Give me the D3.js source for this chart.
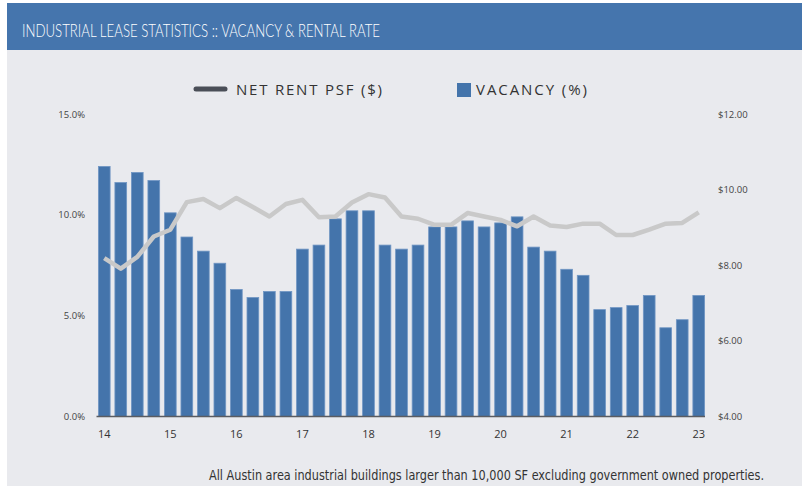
<!DOCTYPE html>
<html>
<head>
<meta charset="utf-8">
<script src="https://cdn.jsdelivr.net/npm/d3@7"></script>
<style>
  body { margin: 0; background: #ffffff; }
  svg { display: block; }
</style>
</head>
<body>
<svg id="chart" width="805" height="486"></svg>
<script>
// quarterly values, 2014 Q1 .. 2023 Q1
const vacancy = [12.4, 11.6, 12.1, 11.7, 10.1, 8.9, 8.2, 7.6, 6.3, 5.9, 6.2, 6.2, 8.3,
    8.5, 9.8, 10.2, 10.2, 8.5, 8.3, 8.5, 9.4, 9.4, 9.7, 9.4, 9.6, 9.9, 8.4, 8.2, 7.3,
    7.0, 5.3, 5.4, 5.5, 6.0, 4.4, 4.8, 6.0];
const rent = [8.19, 7.91, 8.22, 8.76, 8.94, 9.67, 9.75, 9.51, 9.78, 9.54, 9.29, 9.62,
    9.73, 9.27, 9.29, 9.66, 9.88, 9.79, 9.29, 9.23, 9.07, 9.07, 9.38, 9.29, 9.20, 9.03,
    9.29, 9.05, 9.01, 9.10, 9.10, 8.80, 8.80, 8.94, 9.10, 9.12, 9.40];
const yearLabels = ["14", "15", "16", "17", "18", "19", "20", "21", "22", "23"];
const vacancyTicks = [0, 5, 10, 15];
const rentTicks = [4, 6, 8, 10, 12];

const svg = d3.select("#chart");

// panel + header
svg.append("rect").attr("x", 7).attr("y", 50).attr("width", 795).attr("height", 436)
    .attr("fill", "#e9eaee");
svg.append("rect").attr("x", 7).attr("y", 3).attr("width", 795).attr("height", 47)
    .attr("fill", "#4575ad");
svg.append("text")
    .attr("x", 22).attr("y", 37)
    .attr("fill", "#ffffff")
    .style("font-family", "Lato, 'Open Sans', sans-serif")
    .style("font-weight", 300)
    .style("font-size", "18.5px")
    .attr("textLength", 358).attr("lengthAdjust", "spacingAndGlyphs")
    .text("INDUSTRIAL LEASE STATISTICS :: VACANCY & RENTAL RATE");

const x = d3.scaleBand()
    .domain(d3.range(vacancy.length))
    .range([96, 707])
    .paddingInner(0.29)
    .paddingOuter(0.145);
const yL = d3.scaleLinear().domain([0, 15]).range([416.5, 114]);
const yR = d3.scaleLinear().domain([4, 12]).range([416.5, 114]);

// bars
svg.append("g").selectAll("rect")
    .data(vacancy)
    .join("rect")
    .attr("x", (d, i) => x(i))
    .attr("y", d => yL(d))
    .attr("width", x.bandwidth())
    .attr("height", d => yL(0) - yL(d))
    .attr("fill", "#4474ab")
    .attr("stroke", "#7096c4")
    .attr("stroke-width", 0.8);

// rent line
const line = d3.line()
    .x((d, i) => x(i) + x.bandwidth() / 2)
    .y(d => yR(d));
svg.append("path")
    .datum(rent)
    .attr("d", line)
    .attr("fill", "none")
    .attr("stroke", "#c9c9c9")
    .attr("stroke-width", 4.5)
    .attr("stroke-linejoin", "round");

// baseline
svg.append("line")
    .attr("x1", 96.5).attr("x2", 705)
    .attr("y1", yL(0)).attr("y2", yL(0))
    .attr("stroke", "#5a5c62").attr("stroke-width", 1.5);

const tickFont = "'Open Sans', 'Noto Sans', sans-serif";

// left axis labels
svg.append("g").selectAll("text")
    .data(vacancyTicks)
    .join("text")
    .attr("x", 85).attr("y", d => yL(d) + 3.5)
    .attr("text-anchor", "end")
    .attr("fill", "#444")
    .style("font-family", tickFont).style("font-size", "9.5px")
    .text(d => d.toFixed(1) + "%");

// right axis labels
svg.append("g").selectAll("text")
    .data(rentTicks)
    .join("text")
    .attr("x", 718).attr("y", d => yR(d) + 3.5)
    .attr("fill", "#444")
    .style("font-family", tickFont).style("font-size", "9.5px")
    .text(d => "$" + d.toFixed(2));

// x labels on Q1 bars
svg.append("g").selectAll("text")
    .data(yearLabels)
    .join("text")
    .attr("x", (d, i) => x(i * 4) + x.bandwidth() / 2)
    .attr("y", 438)
    .attr("text-anchor", "middle")
    .attr("fill", "#333")
    .style("font-family", tickFont).style("font-size", "11px")
    .text(d => d);

// legend
const legendFont = "'Open Sans', 'Noto Sans', sans-serif";
svg.append("line")
    .attr("x1", 196).attr("x2", 225).attr("y1", 89).attr("y2", 89)
    .attr("stroke", "#4a4e57").attr("stroke-width", 5).attr("stroke-linecap", "round");
svg.append("text")
    .attr("x", 236).attr("y", 95)
    .attr("fill", "#333")
    .style("font-family", legendFont).style("font-size", "15px")
    .attr("textLength", 146).attr("lengthAdjust", "spacing")
    .text("NET RENT PSF ($)");
svg.append("rect")
    .attr("x", 457).attr("y", 83).attr("width", 14).attr("height", 14)
    .attr("fill", "#4474ab");
svg.append("text")
    .attr("x", 476).attr("y", 95)
    .attr("fill", "#333")
    .style("font-family", legendFont).style("font-size", "15px")
    .attr("textLength", 111).attr("lengthAdjust", "spacing")
    .text("VACANCY (%)");

// footnote
svg.append("text")
    .attr("x", 209).attr("y", 479.5)
    .attr("fill", "#333")
    .style("font-family", "'Liberation Sans Narrow', 'DejaVu Sans Condensed', sans-serif")
    .style("font-size", "14px")
    .attr("textLength", 555).attr("lengthAdjust", "spacingAndGlyphs")
    .text("All Austin area industrial buildings larger than 10,000 SF excluding government owned properties.");
</script>
</body>
</html>
